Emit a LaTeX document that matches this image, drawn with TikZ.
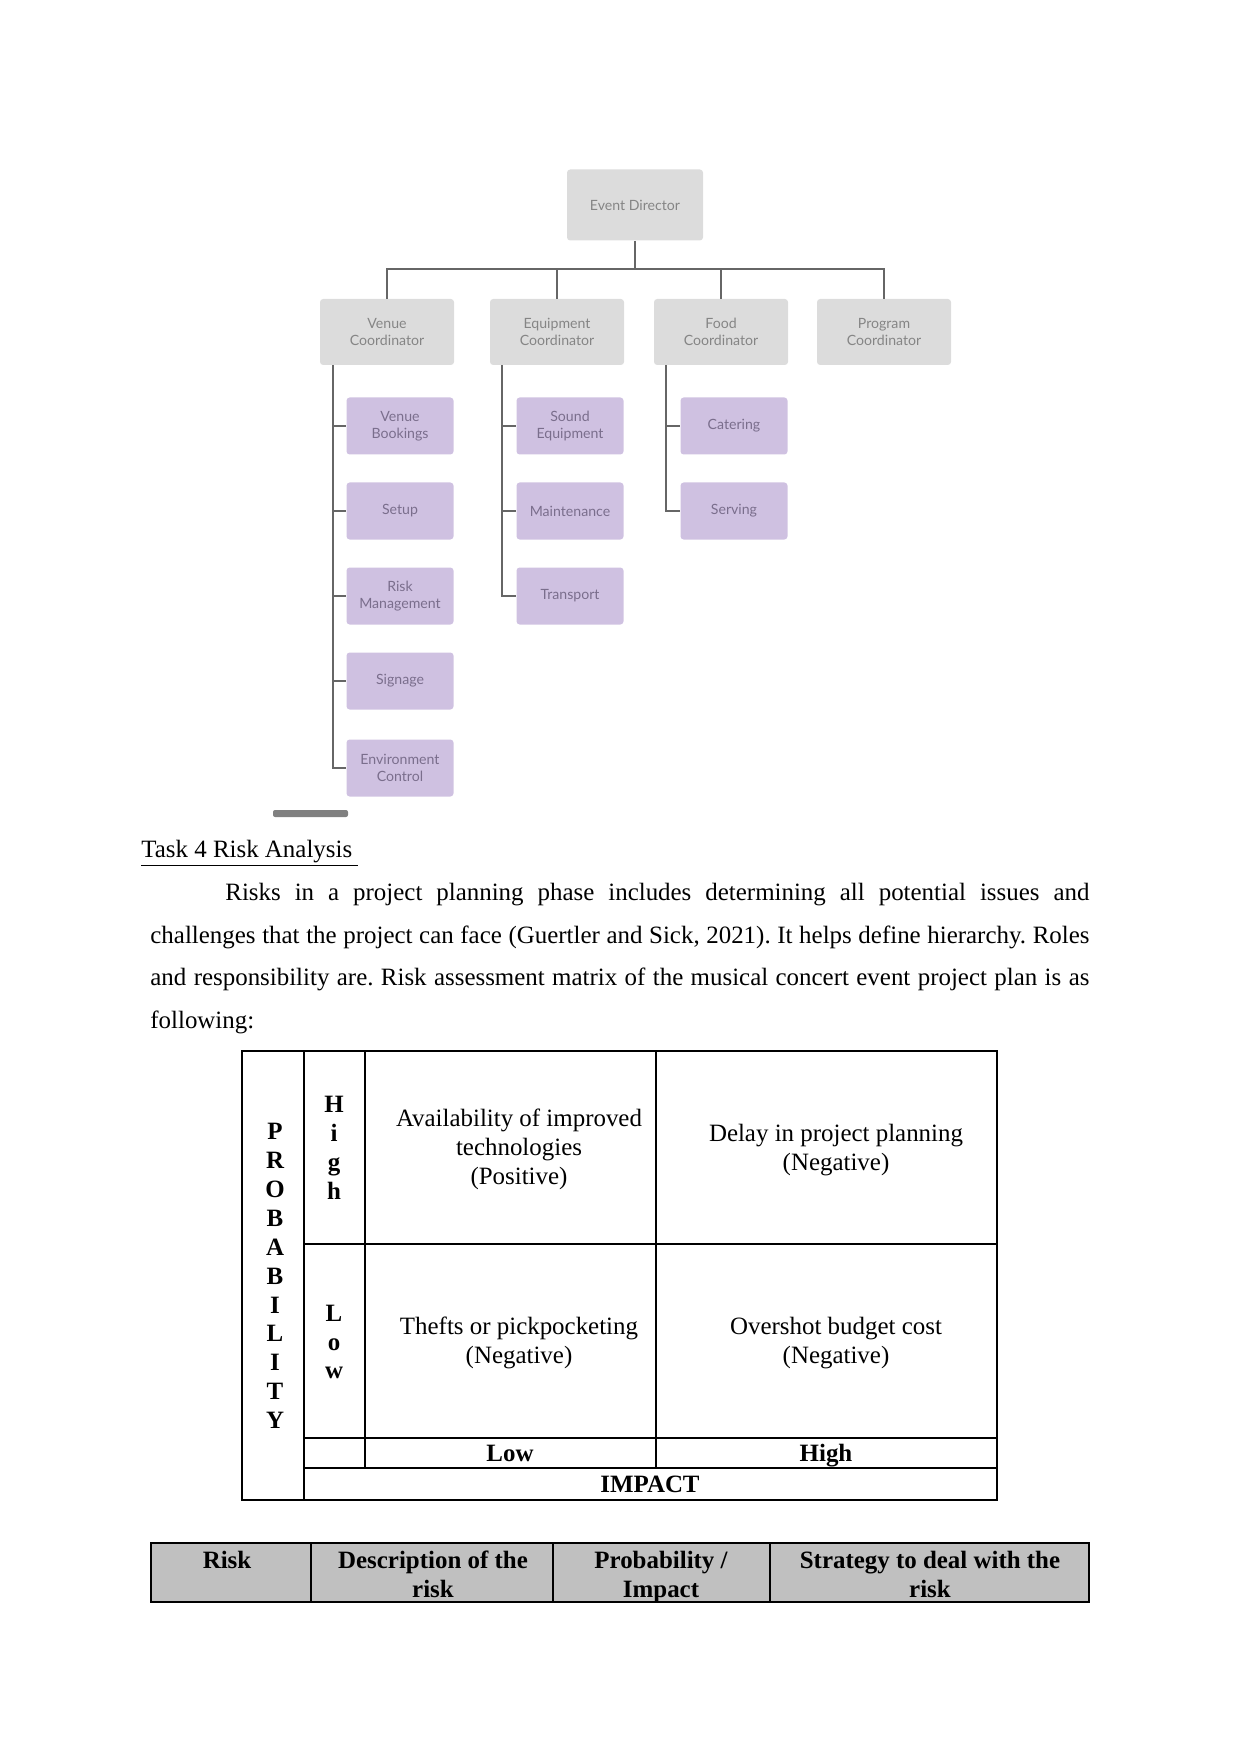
\documentclass[tikz,border=0pt]{standalone}
\usepackage{fontspec}
\setmainfont{Liberation Serif}
\newfontfamily\chartfont{Lato}
\usetikzlibrary{calc}
\definecolor{boxgray}{HTML}{DCDCDC}
\definecolor{boxlilac}{HTML}{CFC1E1}
\definecolor{txtgray}{HTML}{858585}
\definecolor{txtlilac}{HTML}{7A6E8C}
\definecolor{linegray}{HTML}{666666}
\definecolor{headgray}{HTML}{C0C0C0}
\definecolor{bargray}{HTML}{808080}
\newdimen\pxu \pxu=0.0169218cm
\frenchspacing

\begin{document}
\begin{tikzpicture}[
  x=0.0169218cm, y=-0.0169218cm,
  leadbox/.style={rectangle, rounded corners=1.5pt, fill=boxgray, minimum width=136\pxu, minimum height=71\pxu, align=center, font=\chartfont\fontsize{6.8}{8}\selectfont, text=txtgray},
  coordbox/.style={leadbox, minimum width=134\pxu, minimum height=66\pxu},
  task/.style={coordbox, fill=boxlilac, text=txtlilac, minimum width=107\pxu, minimum height=57\pxu},
  link/.style={draw=linegray, line width=0.8pt},
  spine/.style={link, line width=1pt},
  rule/.style={line width=0.5pt},
  cell/.style={align=center, inner sep=0pt, font=\fontsize{12}{13.9}\selectfont},
  cellbf/.style={cell, font=\fontsize{12}{13.9}\selectfont\bfseries},
  head/.style={cellbf, anchor=north}
]
\useasboundingbox (0,0) rectangle (1241,1754);

\node[leadbox] (ed) at (635,205) {Event Director};
\node[coordbox] (vc) at (387,332) {Venue\\Coordinator};
\node[coordbox] (ec) at (557,332) {Equipment\\Coordinator};
\node[coordbox] (fc) at (721,332) {Food\\Coordinator};
\node[coordbox] (pc) at (884,332) {Program\\Coordinator};

\node[task] (vb) at (400,426) {Venue\\Bookings};
\node[task] (setup) at (400,511) {Setup};
\node[task] (rm) at (400,596) {Risk\\Management};
\node[task] (sign) at (400,681) {Signage};
\node[task] (env) at (400,768) {Environment\\Control};
\node[task] (sound) at (570,426) {Sound\\Equipment};
\node[task] (maint) at (570,511) {Maintenance};
\node[task] (trans) at (570,596) {Transport};
\node[task] (cater) at (734,426) {Catering};
\node[task] (serve) at (734,511) {Serving};

\coordinate (bus) at (635,269);
\draw[link] (ed.south) -- (bus);
\draw[link] (vc.north) -- (vc.north |- bus) -- (pc.north |- bus) -- (pc.north);
\draw[link] (ec.north) -- (ec.north |- bus);
\draw[link] (fc.north) -- (fc.north |- bus);

\draw[spine] ($(vc.south west)+(13,0)$) |- (env.west);
\draw[spine] ($(vc.south west)+(13,0)$) |- (vb.west);
\draw[spine] ($(vc.south west)+(13,0)$) |- (setup.west);
\draw[spine] ($(vc.south west)+(13,0)$) |- (rm.west);
\draw[spine] ($(vc.south west)+(13,0)$) |- (sign.west);
\draw[spine] ($(ec.south west)+(12.5,0)$) |- (trans.west);
\draw[spine] ($(ec.south west)+(12.5,0)$) |- (sound.west);
\draw[spine] ($(ec.south west)+(12.5,0)$) |- (maint.west);
\draw[spine] ($(fc.south west)+(12.5,0)$) |- (serve.west);
\draw[spine] ($(fc.south west)+(12.5,0)$) |- (cater.west);

\fill[bargray, rounded corners=1pt] (273,810) rectangle (348,817);

\node[anchor=base west, inner sep=0pt, font=\fontsize{12}{14}\selectfont] (title) at (141,857) {\underline{Task 4 Risk Analysis\ }};
\node[anchor=base west, inner sep=0pt, text width=939\pxu, align=justify, font=\fontsize{12}{20.7}\selectfont] (para) at (150,900) {\hspace*{75\pxu}Risks in a project planning phase includes determining all potential issues and\linebreak challenges that the project can face (Guertler and Sick, 2021). It helps define hierarchy. Roles\linebreak and responsibility are. Risk assessment matrix of the musical concert event project plan is as\linebreak following:};

\draw[rule] (242,1051) rectangle (997,1500);
\draw[rule] (304,1051) -- (304,1500);
\draw[rule] (365,1051) -- (365,1468);
\draw[rule] (656,1051) -- (656,1468);
\draw[rule] (304,1244) -- (997,1244);
\draw[rule] (304,1438) -- (997,1438);
\draw[rule] (304,1468) -- (997,1468);

\node[cellbf] (prob) at (275,1276) {P\\R\\O\\B\\A\\B\\I\\L\\I\\T\\Y};
\node[cellbf] (high) at (334,1148) {H\\i\\g\\h};
\node[cellbf] (low) at (334,1342) {L\\o\\w};
\node[cell] (avail) at (519,1149) {Availability of improved\\technologies\\(Positive)};
\node[cell] (delay) at (836,1150) {Delay in project planning\\(Negative)};
\node[cell] (theft) at (519,1343) {Thefts or pickpocketing\\(Negative)};
\node[cell] (budget) at (836,1343) {Overshot budget cost\\(Negative)};
\node[cellbf, anchor=base] (ilow) at (510,1461) {Low};
\node[cellbf, anchor=base] (ihigh) at (826,1461) {High};
\node[cellbf, anchor=base] (impact) at (650,1492) {IMPACT};

\draw[rule, fill=headgray] (151,1543) rectangle (1089,1602);
\draw[rule] (311,1543) -- (311,1602);
\draw[rule] (553,1543) -- (553,1602);
\draw[rule] (770,1543) -- (770,1602);
\node[head] (risk) at (227,1551) {Risk};
\node[head] (desc) at (433,1551) {Description of the\\risk};
\node[head] (likely) at (661,1551) {Probability /\\Impact};
\node[head] (strat) at (930,1551) {Strategy to deal with the\\risk};
\end{tikzpicture}
\end{document}
